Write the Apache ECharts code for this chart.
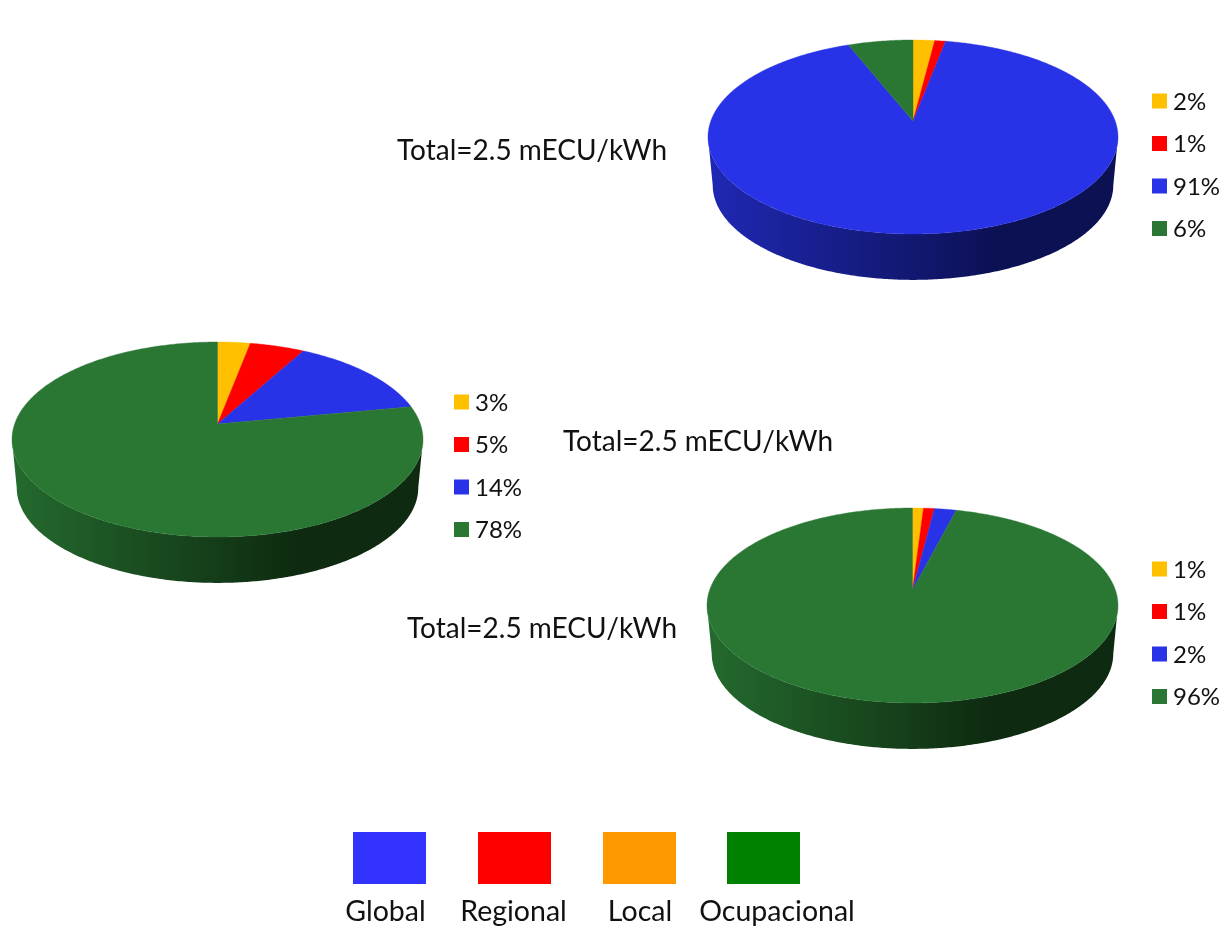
<!DOCTYPE html>
<html>
<head>
<meta charset="utf-8">
<style>html,body{margin:0;padding:0;background:#fff}#chart{width:1228px;height:931px}</style>
<script src="https://cdn.jsdelivr.net/npm/echarts@6/dist/echarts.min.js"></script>
</head>
<body>
<div id="chart"></div>
<script>
// Share of external cost per impact scope, one list per pie, ordered Local, Regional, Global, Ocupacional
const pieTopValues = [2, 1, 91, 6];
const pieLeftValues = [3, 5, 14, 78];
const pieBottomValues = [1, 1, 2, 96];
const sliceNames = ['Local', 'Regional', 'Global', 'Ocupacional'];
const totalLabel = 'Total=2.5 mECU/kWh';
const scopeNames = ['Global', 'Regional', 'Local', 'Ocupacional'];

const sliceColors = ['#FFC000', '#FF0000', '#2832E6', '#2A7734'];
const wallShades = [
  ['#B38600', '#4D3A00'],
  ['#B30000', '#4D0000'],
  ['#1F28B4', '#0C1154'],
  ['#246A2E', '#0E2A10']
];
const scopeColors = ['#3333FF', '#FF0000', '#FF9900', '#008000'];

// Disc placement: centre x, y of the hub, half width, rim top and bottom, wall depth
const discs = [
  { values: pieTopValues, cx: 913, hub: 121, rx: 205, top: 40, bottom: 234, depth: 48.5, keyX: 1152, keyY: 101, textX: 397, textY: 151 },
  { values: pieLeftValues, cx: 217.5, hub: 424, rx: 205.5, top: 342, bottom: 537, depth: 48.5, keyX: 454, keyY: 402, textX: 563, textY: 442 },
  { values: pieBottomValues, cx: 912.5, hub: 590, rx: 205.5, top: 508, bottom: 703, depth: 48.5, keyX: 1152, keyY: 569, textX: 407, textY: 629 }
];

const FONT = 'Lato, "Noto Sans", sans-serif';
const TEXT_COLOR = '#111111';

// Perspective view of a flat disc: a rim angle (clockwise from 12 o'clock) to screen position
function makeProjection(d) {
  const up = d.hub - d.top;
  const down = d.bottom - d.hub;
  const k = (down - up) / (down + up);
  const B = up * (1 + k);
  const A = d.rx * Math.sqrt(1 - k * k);
  return {
    k,
    rim(angle, drop, shrink) {
      const w = 1 + k * Math.cos(angle);
      return [d.cx + shrink * A * Math.sin(angle) / w, d.hub - shrink * B * Math.cos(angle) / w + drop];
    }
  };
}

function arcPoints(proj, from, to, drop, shrink) {
  const steps = Math.max(2, Math.ceil((to - from) / 0.01));
  const pts = [];
  for (let i = 0; i <= steps; i++) {
    pts.push(proj.rim(from + (to - from) * i / steps, drop, shrink));
  }
  return pts;
}

function discSeries(d) {
  const proj = makeProjection(d);
  const frontStart = Math.acos(-proj.k);
  const frontEnd = 2 * Math.PI - frontStart;
  let running = 0;
  const data = d.values.map((v, i) => {
    const row = { name: sliceNames[i], value: [v, running] };
    running += v;
    return row;
  });
  const total = running;
  return {
    type: 'custom',
    coordinateSystem: 'none',
    silent: true,
    animation: false,
    clip: false,
    data,
    renderItem(params, api) {
      const i = params.dataIndex;
      const from = api.value(1) / total * 2 * Math.PI;
      const to = (api.value(1) + api.value(0)) / total * 2 * Math.PI;
      const children = [];
      // Side wall, only where the slice lies on the near half of the rim
      const wFrom = Math.max(from, frontStart);
      const wTo = Math.min(to, frontEnd);
      if (wTo > wFrom) {
        const upper = arcPoints(proj, wFrom, wTo, 0, 1);
        const lower = arcPoints(proj, wFrom, wTo, d.depth, 0.977).reverse();
        // The shading runs across the whole disc, so it is anchored to the disc width
        const leftEdge = d.cx - d.rx;
        const rightEdge = d.cx + d.rx;
        const dark = d.cx + d.rx * 0.4;
        children.push({
          type: 'polygon',
          shape: { points: upper.concat(lower) },
          style: {
            fill: new echarts.graphic.LinearGradient(leftEdge, 0, rightEdge, 0, [
              { offset: 0, color: wallShades[i][0] },
              { offset: (dark - leftEdge) / (rightEdge - leftEdge), color: wallShades[i][1] },
              { offset: 1, color: wallShades[i][1] }
            ], true),
            lineWidth: 0
          }
        });
      }
      // Top face of the slice
      const face = [proj.rim(0, 0, 0)].concat(arcPoints(proj, from, to, 0, 1));
      children.push({
        type: 'polygon',
        shape: { points: face },
        style: { fill: sliceColors[i], stroke: sliceColors[i], lineWidth: 0.4 }
      });
      return { type: 'group', children };
    }
  };
}

// Percentage key beside a disc and the total caption
function discAnnotations(d) {
  const items = [];
  d.values.forEach((v, i) => {
    const y = d.keyY + i * 42.5;
    items.push({
      type: 'rect', silent: true,
      shape: { x: d.keyX, y: y - 7.5, width: 15, height: 15 },
      style: { fill: sliceColors[i] }
    });
    items.push({
      type: 'text', silent: true, x: d.keyX + 21, y: y + 1,
      style: { text: v + '%', font: '24px ' + FONT, fill: TEXT_COLOR, textVerticalAlign: 'middle' }
    });
  });
  items.push({
    type: 'text', silent: true, x: d.textX, y: d.textY,
    style: { text: totalLabel, font: '28px ' + FONT, fill: TEXT_COLOR, textVerticalAlign: 'middle' }
  });
  return items;
}

// Colour key for the impact scopes along the bottom
const scopeBoxX = [353, 478, 603, 727];
const scopeTextX = [385.5, 513.5, 640, 777];
const scopeKey = [];
scopeNames.forEach((name, i) => {
  scopeKey.push({
    type: 'rect', silent: true,
    shape: { x: scopeBoxX[i], y: 832, width: 73, height: 52 },
    style: { fill: scopeColors[i] }
  });
  scopeKey.push({
    type: 'text', silent: true, x: scopeTextX[i], y: 912,
    style: { text: name, font: '28.5px ' + FONT, fill: TEXT_COLOR, textAlign: 'center', textVerticalAlign: 'middle' }
  });
});

const chart = echarts.init(document.getElementById('chart'), null, { renderer: 'canvas' });
chart.setOption({
  backgroundColor: '#ffffff',
  animation: false,
  series: discs.map(discSeries),
  graphic: { elements: discs.flatMap(discAnnotations).concat(scopeKey) }
});
</script>
</body>
</html>
